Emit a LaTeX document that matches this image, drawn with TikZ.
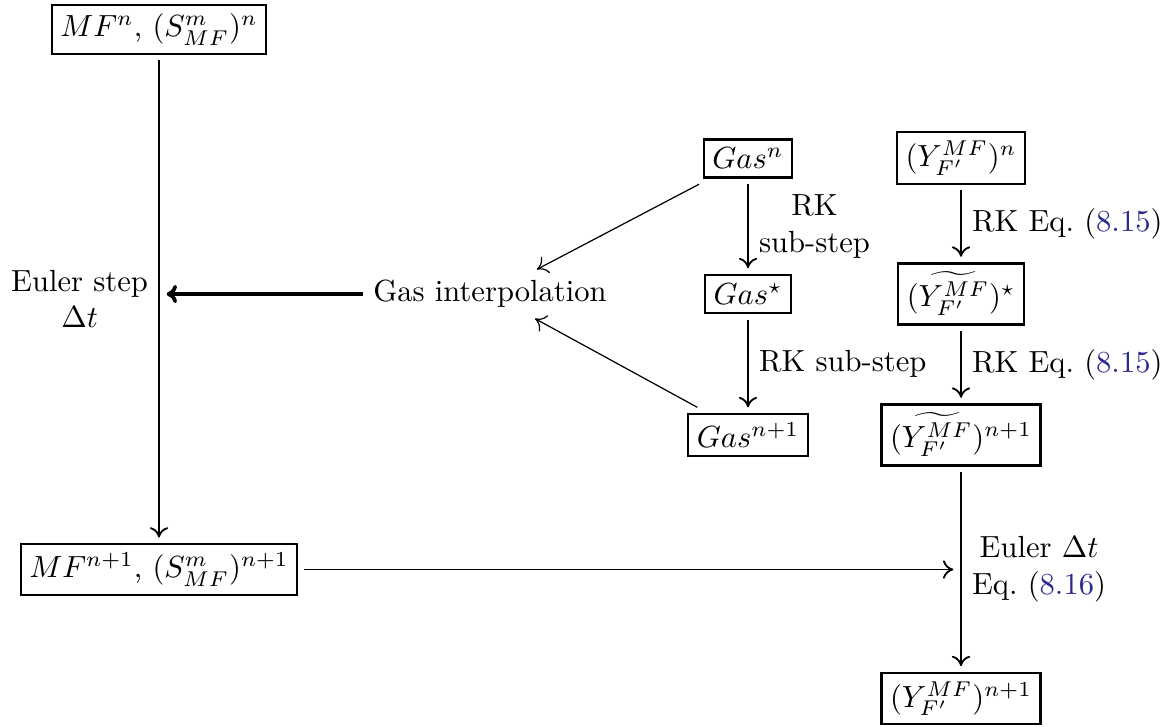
\documentclass[tikz,border=0pt]{standalone}
\usepackage{amsmath}
\usepackage{tikz}
\usepackage{xcolor}
\usetikzlibrary{arrows.meta,calc}
\definecolor{EqBlue}{HTML}{2B2B8C}
\newcommand{\eqlink}[1]{(\textcolor{EqBlue}{#1})}

\tikzset{
  >={Computer Modern Rightarrow[length=3.4pt,width=6pt]},
  box/.style={draw,line width=0.7pt,inner sep=2.8pt,outer sep=2.2pt},
  lbl/.style={align=center},
  flow/.style={->,line width=0.6pt},
  feed/.style={->,line width=0.4pt},
}

\begin{document}
\begin{tikzpicture}[x=0.1149cm,y=0.1149cm]
  \useasboundingbox (0,0) rectangle (116.8,-72.6);
  % particles (left column)
  \node[box] (mfn) at (15.9,-2.95) {$MF^n$, $(S^m_{MF})^n$};
  \node[box] (mfnp) at (15.9,-56.95) {$MF^{n+1}$, $(S^m_{MF})^{n+1}$};
  \node (interp) at (49.0,-29.4) {Gas interpolation};
  % gas column
  \node[box] (gasn) at (74.8,-15.85) {$Gas^n$};
  \node[box] (gasstar) at (74.8,-29.4) {$Gas^\star$};
  \node[box] (gasnp) at (74.8,-43.5) {$Gas^{n+1}$};
  % mass fractions
  \node[box] (yn) at (96.1,-15.8) {$(Y^{MF}_{F'})^n$};
  \node[box] (ystar) at (96.1,-29.4) {$(\widetilde{Y^{MF}_{F'}})^\star$};
  \node[box] (ynpt) at (96.1,-43.5) {$(\widetilde{Y^{MF}_{F'}})^{n+1}$};
  \node[box] (ynp) at (96.1,-69.85) {$(Y^{MF}_{F'})^{n+1}$};

  \draw[flow] (mfn) -- node[left,lbl] {Euler step\\$\Delta t$} (mfnp);
  \coordinate (hit) at (mfn |- interp);
  \draw[->,line width=1.2pt,shorten >=2.5pt] (interp) -- (hit);
  \draw[feed] (gasn) -- (interp);
  \draw[feed] (gasnp) -- (interp);

  \draw[flow] (gasn) -- node[right,lbl] {RK\\sub-step} (gasstar);
  \draw[flow] (gasstar) -- node[right] {RK sub-step} (gasnp);
  \draw[flow] (yn) -- node[right] {RK Eq.~\eqlink{8.15}} (ystar);
  \draw[flow] (ystar) -- node[right] {RK Eq.~\eqlink{8.15}} (ynpt);

  \coordinate (meet) at (ynpt |- mfnp);
  \draw[flow,shorten >=2.5pt] (mfnp) -- (meet);
  \draw[flow] (ynpt) -- node[right,lbl] {Euler $\Delta t$\\Eq.~\eqlink{8.16}} (ynp);
\end{tikzpicture}
\end{document}
